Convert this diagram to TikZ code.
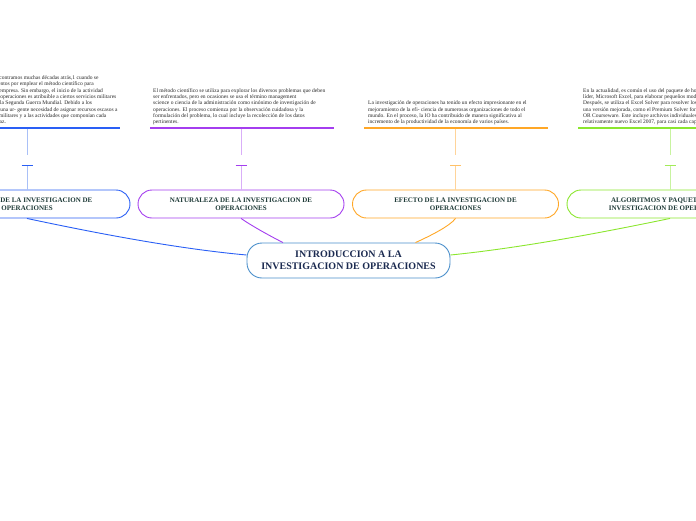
\documentclass[tikz,border=0pt]{standalone}
\usepackage{fontspec}
\setmainfont{Liberation Serif}
\definecolor{cb}{HTML}{2A5FF5}
\definecolor{cp}{HTML}{A43EEF}
\definecolor{co}{HTML}{FFA726}
\definecolor{cg}{HTML}{8BE62E}
\definecolor{cbl}{HTML}{A9C0F7}
\definecolor{cpl}{HTML}{D9AEF8}
\definecolor{col}{HTML}{FFD49A}
\definecolor{cgl}{HTML}{C8F3A0}
\definecolor{cenc}{HTML}{4A8FCB}
\definecolor{centxt}{HTML}{1B2A50}
\definecolor{brtxt}{HTML}{1F3B38}
\begin{document}
\begin{tikzpicture}[x=1pt,y=-1pt,
  central/.style={draw=cenc, line width=0.9pt, fill=white, rounded corners=15pt,
    minimum width=203pt, minimum height=35pt, align=center,
    font=\fontsize{10}{12}\selectfont\bfseries, text=centxt, inner sep=0pt},
  branch/.style={draw=#1, line width=0.9pt, fill=white, rounded corners=14pt,
    minimum width=206pt, minimum height=28pt, align=center,
    font=\fontsize{7}{8.2}\selectfont\bfseries, text=brtxt, inner sep=0pt},
  note/.style={anchor=south west, align=left, inner sep=0pt,
    font=\fontsize{5.5}{6.3}\selectfont, text=black!85},
  hline/.style={draw=#1, line width=1.2pt},
  vstem/.style={draw=#1, line width=0.9pt},
  tmark/.style={draw=#1, line width=1.4pt},
  conn/.style={draw=#1, line width=0.9pt}
]
\useasboundingbox (0,0) rectangle (696,520);
\clip (0,0) rectangle (696,520);

% central node
\node[central] (c) at (348.5,260.5) {INTRODUCCION A LA\\INVESTIGACION DE OPERACIONES};

% branch nodes
\node[branch=cb] (b1) at (27,204) {ORIGENES DE LA INVESTIGACION DE\\OPERACIONES};
\node[branch=cp] (b2) at (241,204) {NATURALEZA DE LA INVESTIGACION DE\\OPERACIONES};
\node[branch=co] (b3) at (455.5,204) {EFECTO DE LA INVESTIGACION DE\\OPERACIONES};
\node[branch=cg] (b4) at (670,204) {ALGORITMOS Y PAQUETES DE LA\\INVESTIGACION DE OPERACIONES};

% connectors to centre
\draw[conn=cb] (b1.south) .. controls (100,234) and (180,249) .. ([yshift=5.5pt]c.west);
\draw[conn=cp] (b2.south) .. controls (252,226) and (270,236) .. ([xshift=-65.5pt]c.north);
\draw[conn=co] (b3.south) .. controls (450,226) and (430,236) .. ([xshift=67pt]c.north);
\draw[conn=cg] (b4.south) .. controls (600,233) and (520,248) .. ([yshift=5.5pt]c.east);

% rules, stems and marks
\coordinate (ra1) at (-65,128);  \coordinate (rb1) at (120,128);
\coordinate (ra2) at (150,128);  \coordinate (rb2) at (334,128);
\coordinate (ra3) at (364,128);  \coordinate (rb3) at (548,128);
\coordinate (ra4) at (578,128);  \coordinate (rb4) at (762,128);
\coordinate (st1) at (27,128.6);    \coordinate (sg1) at (27,155);    \coordinate (k1) at (27,165.5);
\coordinate (st2) at (241,128.6);   \coordinate (sg2) at (241,155);   \coordinate (k2) at (241,165.5);
\coordinate (st3) at (455.5,128.6); \coordinate (sg3) at (455.5,155); \coordinate (k3) at (455.5,165.5);
\coordinate (st4) at (670,128.6);   \coordinate (sg4) at (670,155);   \coordinate (k4) at (670,165.5);

\draw[hline=cb] (ra1) -- (rb1);
\draw[hline=cp] (ra2) -- (rb2);
\draw[hline=co] (ra3) -- (rb3);
\draw[hline=cg] (ra4) -- (rb4);

\draw[vstem=cbl] (st1) -- (sg1);  \draw[vstem=cbl] (k1) -- (b1.north);
\draw[vstem=cpl] (st2) -- (sg2);  \draw[vstem=cpl] (k2) -- (b2.north);
\draw[vstem=col] (st3) -- (sg3);  \draw[vstem=col] (k3) -- (b3.north);
\draw[vstem=cgl] (st4) -- (sg4);  \draw[vstem=cgl] (k4) -- (b4.north);

\draw[tmark=cb] ([xshift=-5.5pt]k1) -- ([xshift=5.5pt]k1);
\draw[tmark=cp] ([xshift=-5.5pt]k2) -- ([xshift=5.5pt]k2);
\draw[tmark=co!70] ([xshift=-5.5pt]k3) -- ([xshift=5.5pt]k3);
\draw[tmark=cg!80] ([xshift=-5.5pt]k4) -- ([xshift=5.5pt]k4);

% text blocks
\node[note] (n1) at (-56,125) {Las raíces de la IO las encontramos muchas décadas atrás,1 cuando se\\
hicieron los primeros intentos por emplear el método científico para\\
la administración de una empresa. Sin embargo, el inicio de la actividad\\
llamada investigación de operaciones es atribuible a ciertos servicios militares\\
prestados a principios de la Segunda Guerra Mundial. Debido a los\\
esfuerzos bélicos, existía una ur- gente necesidad de asignar recursos escasos a\\
las distintas operaciones militares y a las actividades que componían cada\\
operación de manera eficaz.};

\node[note] (n2) at (153,125) {El método científico se utiliza para explorar los diversos problemas que deben\\
ser enfrentados, pero en ocasiones se usa el término management\\
science o ciencia de la administración como sinónimo de investigación de\\
operaciones. El proceso comienza por la observación cuidadosa y la\\
formulación del problema, lo cual incluye la recolección de los datos\\
pertinentes.};

\node[note] (n3) at (368,125) {La investigación de operaciones ha tenido un efecto impresionante en el\\
mejoramiento de la efi- ciencia de numerosas organizaciones de todo el\\
mundo. En el proceso, la IO ha contribuido de manera significativa al\\
incremento de la productividad de la economía de varios países.};

\node[note] (n4) at (583,125) {En la actualidad, es común el uso del paquete de hoja de cálculo\\
líder, Microsoft Excel, para elaborar pequeños modelos de IO.\\
Después, se utiliza el Excel Solver para resolver los modelos, o bien\\
una versión mejorada, como el Premium Solver for Education\\
OR Courseware. Este incluye archivos individuales de Excel para el\\
relativamente nuevo Excel 2007, para casi cada capítulo.};
\end{tikzpicture}
\end{document}
